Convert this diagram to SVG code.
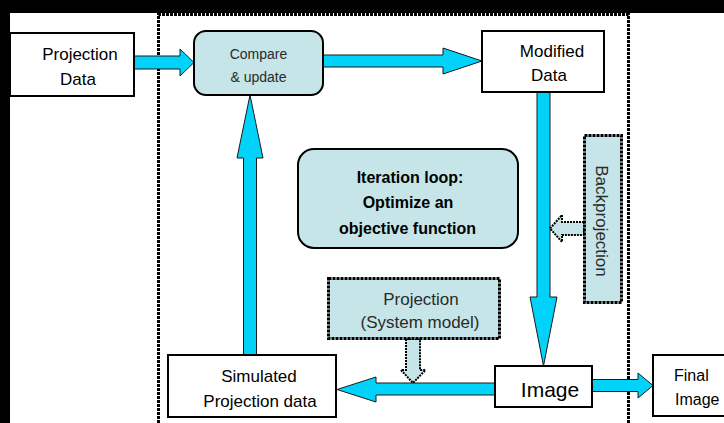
<svg xmlns="http://www.w3.org/2000/svg" width="724" height="423" viewBox="0 0 724 423">
<style>
text{font-family:"Liberation Sans",Arial,sans-serif;fill:#000}
.box{fill:#fff;stroke:#000;stroke-width:2}
.tealbox{fill:#c5e5e8;stroke:#000;stroke-width:2}
.dotbox{fill:#c5e5e8;stroke:#000;stroke-width:3;stroke-dasharray:3 1}
.arrow{fill:#00d2fa;stroke:#1a1a1a;stroke-width:1}
.hollow{fill:#c5e5e8;stroke:#000;stroke-width:2;stroke-dasharray:2 1}
.frame{fill:none;stroke:#000;stroke-width:3;stroke-dasharray:3 1}
.t17{font-size:17px}
.grey{fill:#2a2a2a}
.bold{font-size:16px;font-weight:bold}
</style>
<rect width="724" height="423" fill="#fff"/>
<rect x="0" y="0" width="724" height="13" fill="#000"/>
<rect x="0" y="0" width="10" height="423" fill="#000"/>
<g id="frame">
<path class="frame" d="M158.5 423 V14.5 H628.5 V423"/>
</g>
<g id="connectors">
<path class="arrow" d="M134 56 H180 V49 L194 62.5 L180 76 V69 H134 Z"/>
<path class="arrow" d="M323 55 H443 V48 L482 61 L443 74 V67 H323 Z"/>
<path class="arrow" d="M537 92 V297 H530 L543.5 366 L557 297 H550 V92 Z"/>
<path class="arrow" d="M243.5 355 V158 H237 L250 95 L263 158 H256.5 V355 Z"/>
<path class="arrow" d="M495 383 H376 V377 L337 389.5 L376 402 V395 H495 Z"/>
<path class="arrow" d="M592 379.5 H638 V373 L653 385.5 L638 398 V391.5 H592 Z"/>
<path class="hollow" d="M406 339 V370 H401 L413 383 L425.5 370 H420 V339 Z"/>
<path class="hollow" d="M584 222 H562 V215 L550 228.5 L562 242 V235 H584 Z"/>
</g>
<g id="projection-data">
<rect class="box" x="10" y="33" width="124" height="63"/>
<text class="t17" x="80" y="60" text-anchor="middle">Projection</text>
<text class="t17" x="78" y="85" text-anchor="middle">Data</text>
</g>
<g id="compare-update">
<rect class="tealbox" x="194" y="31" width="129" height="64" rx="12"/>
<text class="grey" x="258.5" y="59" font-size="14" text-anchor="middle">Compare</text>
<text class="grey" x="258.5" y="82" font-size="14" text-anchor="middle">&amp; update</text>
</g>
<g id="modified-data">
<rect class="box" x="482" y="31" width="122" height="61"/>
<text class="t17" x="552" y="57" text-anchor="middle">Modified</text>
<text class="t17" x="549" y="81" text-anchor="middle">Data</text>
</g>
<g id="iteration-loop">
<rect class="tealbox" x="298" y="149" width="220" height="99" rx="16"/>
<text class="bold" x="410" y="183" text-anchor="middle">Iteration loop:</text>
<text class="bold" x="408" y="208" text-anchor="middle">Optimize an</text>
<text class="bold" x="407.5" y="234" text-anchor="middle">objective function</text>
</g>
<g id="backprojection">
<rect class="dotbox" x="584.5" y="135.5" width="37" height="167"/>
<text class="t17 grey" transform="translate(596,221) rotate(90)" text-anchor="middle">Backprojection</text>
</g>
<g id="projection-system-model">
<rect class="dotbox" x="328.5" y="278.5" width="171" height="60"/>
<text class="t17 grey" x="421" y="305" text-anchor="middle">Projection</text>
<text class="t17 grey" x="420" y="328" text-anchor="middle">(System model)</text>
</g>
<g id="simulated-projection-data">
<rect class="box" x="168" y="355" width="168" height="62"/>
<text class="t17" x="259" y="382" text-anchor="middle">Simulated</text>
<text class="t17" x="260" y="407" text-anchor="middle">Projection data</text>
</g>
<g id="image">
<rect class="box" x="495" y="366" width="97" height="41"/>
<text x="550" y="397" font-size="21" text-anchor="middle">Image</text>
</g>
<g id="final-image">
<rect class="box" x="653" y="355" width="80" height="61"/>
<text x="674" y="381" font-size="16">Final</text>
<text x="675" y="405" font-size="16">Image</text>
</g>
</svg>
